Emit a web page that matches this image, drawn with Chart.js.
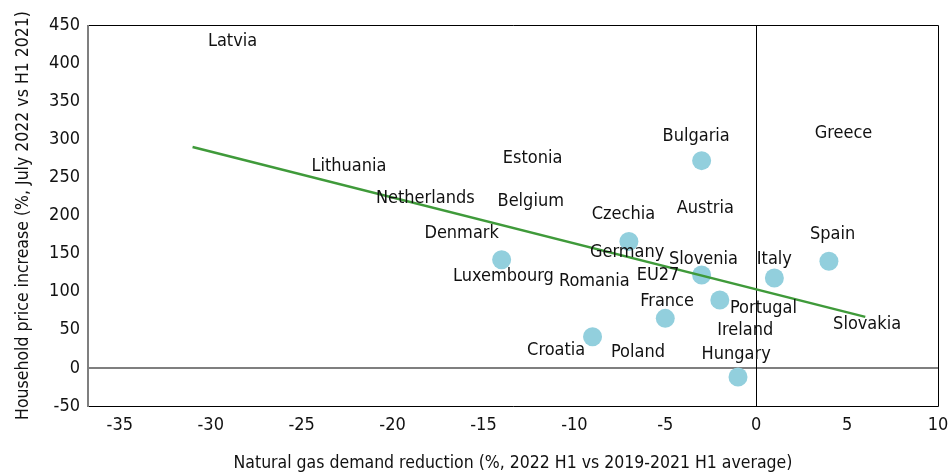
<!DOCTYPE html>
<html>
<head>
<meta charset="utf-8">
<script src="https://cdn.jsdelivr.net/npm/chart.js@4"></script>
<style>
  html, body { margin: 0; padding: 0; background: #fff; }
  #wrap { width: 951px; height: 474px; }
</style>
</head>
<body>
<div id="wrap"><canvas id="gasChart" width="951" height="474"></canvas></div>
<script>
// Data
const pointX = [-3.0, -7.0, -3.0, -2.0, 1.0, 4.0, -5.0, -1.0, -9.0, -14.0];
const pointY = [272, 166, 122, 89, 118, 140, 65, -12, 41, 142];

// Trend line end points
const trendX = [-31, 6];
const trendY = [290, 67];

// Country labels and where they sit (data units)
const countries = ["Latvia", "Lithuania", "Estonia", "Netherlands", "Belgium", "Denmark",
  "Luxembourg", "Romania", "Czechia", "Germany", "Bulgaria", "Austria", "Slovenia", "EU27",
  "France", "Portugal", "Ireland", "Hungary", "Poland", "Croatia", "Italy", "Spain", "Greece", "Slovakia"];
const labelX = [-28.8, -22.4, -12.3, -18.2, -12.4, -16.2, -13.9, -8.9, -7.3, -7.1, -3.3, -2.8,
  -2.9, -5.4, -4.9, 0.4, -0.6, -1.1, -6.5, -11.0, 1.0, 4.2, 4.8, 6.1];
const labelY = [429, 264, 275, 222, 218, 177, 120, 114, 202, 152, 304, 209,
  143, 122, 88, 78, 49, 18, 20, 23, 142, 175, 308, 57];

const xTicks = [-35, -30, -25, -20, -15, -10, -5, 0, 5, 10];
const yTicks = [-50, 0, 50, 100, 150, 200, 250, 300, 350, 400, 450];

const FONT = "'Liberation Sans Narrow', 'DejaVu Sans Condensed', Roboto, sans-serif";

// Draw the country names
const countryLabels = {
  id: "countryLabels",
  afterDatasetsDraw(chart) {
    const ctx = chart.ctx;
    const xs = chart.scales.x, ys = chart.scales.y;
    ctx.save();
    ctx.font = "18px " + FONT;
    ctx.fillStyle = "#111";
    ctx.textAlign = "center";
    ctx.textBaseline = "middle";
    countries.forEach((name, i) => {
      ctx.fillText(name, xs.getPixelForValue(labelX[i]), ys.getPixelForValue(labelY[i]));
    });
    ctx.restore();
  }
};

// Box around the plot area + zero lines
const frame = {
  id: "frame",
  beforeDatasetsDraw(chart) {
    const ctx = chart.ctx;
    const a = chart.chartArea;
    const xs = chart.scales.x, ys = chart.scales.y;
    ctx.save();
    // zero line (horizontal)
    ctx.strokeStyle = "#7f7f7f";
    ctx.lineWidth = 2;
    const y0 = Math.round(ys.getPixelForValue(0));
    ctx.beginPath(); ctx.moveTo(a.left, y0); ctx.lineTo(a.right, y0); ctx.stroke();
    // zero line (vertical)
    ctx.strokeStyle = "#000";
    ctx.lineWidth = 1;
    const x0 = Math.round(xs.getPixelForValue(0)) + 0.5;
    ctx.beginPath(); ctx.moveTo(x0, a.top); ctx.lineTo(x0, a.bottom); ctx.stroke();
    // box
    ctx.strokeStyle = "#000";
    ctx.beginPath();
    ctx.moveTo(a.left, a.top + 0.5); ctx.lineTo(a.right + 0.5, a.top + 0.5);
    ctx.lineTo(a.right + 0.5, a.bottom + 0.5); ctx.lineTo(a.left, a.bottom + 0.5);
    ctx.stroke();
    ctx.strokeStyle = "#7f7f7f";
    ctx.lineWidth = 2;
    ctx.beginPath(); ctx.moveTo(a.left, a.top); ctx.lineTo(a.left, a.bottom + 1); ctx.stroke();
    ctx.restore();
  }
};

new Chart(document.getElementById("gasChart").getContext("2d"), {
  type: "scatter",
  data: {
    datasets: [
      {
        label: "Countries",
        data: pointX.map((x, i) => ({ x: x, y: pointY[i] })),
        backgroundColor: "#92cfdd",
        borderWidth: 0,
        pointRadius: 9.5,
        order: 2
      },
      {
        label: "Trend",
        type: "line",
        data: trendX.map((x, i) => ({ x: x, y: trendY[i] })),
        borderColor: "#3f9a3a",
        borderWidth: 2.5,
        pointRadius: 0,
        fill: false,
        order: 1
      }
    ]
  },
  options: {
    responsive: false,
    animation: false,
    layout: { padding: { left: 0, top: 25, right: 13, bottom: 0 } },
    plugins: {
      legend: { display: false },
      tooltip: { enabled: false }
    },
    scales: {
      x: {
        type: "linear",
        min: -36.75,
        max: 10,
        afterBuildTicks: s => { s.ticks = xTicks.map(v => ({ value: v })); },
        afterFit: s => { s.height = 68; s.paddingLeft = 0; s.paddingRight = 0; },
        grid: { display: false, drawTicks: false },
        border: { display: false },
        ticks: { color: "#111", font: { family: FONT, size: 18 }, padding: 9, maxRotation: 0 },
        title: {
          display: true,
          text: "Natural gas demand reduction (%, 2022 H1 vs 2019-2021 H1 average)",
          color: "#111",
          font: { family: FONT, size: 17.5 },
          padding: { top: 4, bottom: 0 }
        }
      },
      y: {
        min: -50,
        max: 450,
        afterBuildTicks: s => { s.ticks = yTicks.map(v => ({ value: v })); },
        afterFit: s => { s.width = 88; s.paddingTop = 0; s.paddingBottom = 0; },
        grid: { display: false, drawTicks: false },
        border: { display: false },
        ticks: { color: "#111", font: { family: FONT, size: 18 }, padding: 8 },
        title: {
          display: true,
          text: "Household price increase (%, July 2022 vs H1 2021)",
          color: "#111",
          font: { family: FONT, size: 17.5 },
          padding: { top: 13, bottom: 4 }
        }
      }
    }
  },
  plugins: [frame, countryLabels]
});
</script>
</body>
</html>
